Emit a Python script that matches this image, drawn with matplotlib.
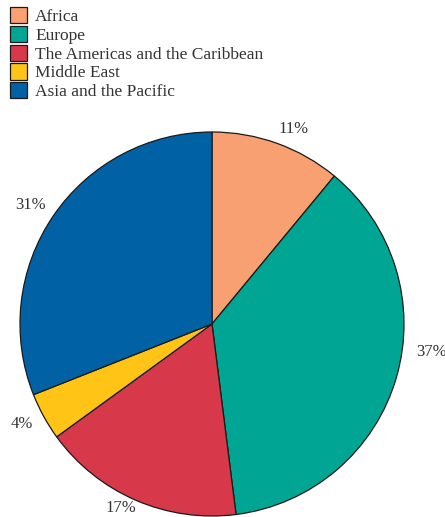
import numpy as np
import matplotlib.pyplot as plt

# ---Data
regions = ['Africa', 'Europe', 'The Americas and the Caribbean', 'Middle East', 'Asia and the Pacific']
shares = [11, 37, 17, 4, 31]
colors = ['#F9A072', '#00A693', '#D7394B', '#FFC415', '#0062A5']

# label placement (radial factor, angle tweak in degrees)
lab_r = [1.10, 1.15, 1.07, 1.12, 1.13]
lab_dt = [-3, 9, -3, -1, 1]

plt.rcParams['font.family'] = ['Liberation Serif', 'DejaVu Serif']

fig = plt.figure(figsize=(4.45, 5.17), dpi=100)
ax = fig.add_axes([20 / 445, 1 / 517, 384 / 445, 384 / 517])

wedges, texts = ax.pie(shares, colors=colors, startangle=90, counterclock=False,
                       labels=['%d%%' % s for s in shares],
                       wedgeprops=dict(edgecolor='#1a1a1a', linewidth=0.9),
                       textprops=dict(fontsize=12, color='#333333'))
for w, t, r, dt in zip(wedges, texts, lab_r, lab_dt):
    a = np.deg2rad((w.theta1 + w.theta2) / 2 + dt)
    t.set_position((r * np.cos(a), r * np.sin(a)))
    t.set_ha('center')
    t.set_va('center')
    t.set_clip_on(False)
ax.set_xlim(-1, 1)
ax.set_ylim(-1, 1)
ax.set_aspect('equal')

leg = fig.legend(wedges, regions, loc='upper left', bbox_to_anchor=(0.007, 1.0),
                 frameon=False, fontsize=12.5, handlelength=1.0, handleheight=1.05,
                 handletextpad=0.45, labelspacing=0.05, borderaxespad=0.0, borderpad=0.4)
for t in leg.get_texts():
    t.set_color('#333333')

fig.savefig('out.png', dpi=100)
